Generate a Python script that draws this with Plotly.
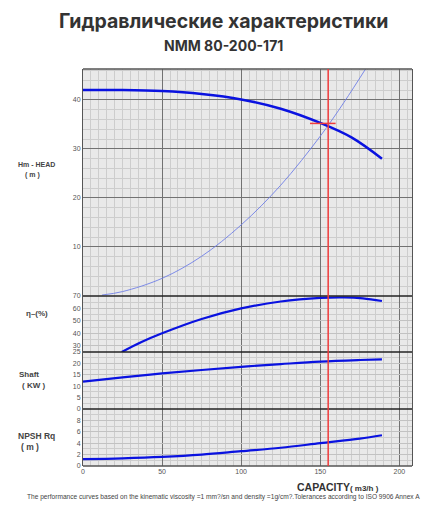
import plotly.graph_objects as go
from plotly.subplots import make_subplots

# pump curve readings (Q in m3/h)
q_head = [0, 25, 50, 75, 100, 125, 150, 170, 189]
head = [42.0, 42.0, 41.8, 41.2, 40.1, 38.2, 35.3, 32.3, 28.0]

q_sys = [12, 25, 50, 75, 100, 125, 150, 165, 180]
h_sys = [0.2, 0.9, 3.6, 8.1, 14.5, 22.6, 32.6, 39.5, 47.0]

q_eff = [24.5, 37, 50, 75, 100, 125, 150, 165, 177, 189]
eff = [25, 33, 40, 51.5, 60, 65.6, 68.5, 68.9, 68.1, 66]

q_pow = [0, 25, 50, 75, 100, 125, 150, 175, 189]
power = [12.0, 13.9, 15.6, 17.1, 18.5, 19.7, 20.8, 21.5, 21.8]

q_npsh = [0, 25, 50, 75, 100, 125, 150, 175, 189]
npsh = [1.2, 1.35, 1.6, 2.0, 2.6, 3.2, 4.0, 4.8, 5.4]

duty_q = 155
duty_h = 35.2

x_ticks = [0, 50, 100, 150, 200]

BLUE = "#0a12e0"
GRID_MAJOR = "#727272"
GRID_MINOR = "#cdcdcd"
TICKFONT = dict(family="Liberation Sans, Arial", size=7, color="#555")

# page body has an 8px margin, so the figure is 8px smaller and all spots shifted by 8
OFF = 8
FW, FH = 439 - OFF, 520 - OFF
L, T, H, W = 83 - OFF, 69 - OFF, 397, 329

fig = make_subplots(rows=4, cols=1, shared_xaxes=True, vertical_spacing=0,
                    row_heights=[227, 56, 57, 57])

fig.add_trace(go.Scatter(x=q_sys, y=h_sys, mode="lines", line=dict(color="#6f7fe6", width=0.9, shape="spline")), row=1, col=1)
fig.add_trace(go.Scatter(x=q_head, y=head, mode="lines", line=dict(color=BLUE, width=2.5, shape="spline")), row=1, col=1)
fig.add_trace(go.Scatter(x=q_eff, y=eff, mode="lines", line=dict(color=BLUE, width=2.2, shape="spline")), row=2, col=1)
fig.add_trace(go.Scatter(x=q_pow, y=power, mode="lines", line=dict(color=BLUE, width=2.2, shape="spline")), row=3, col=1)
fig.add_trace(go.Scatter(x=q_npsh, y=npsh, mode="lines", line=dict(color=BLUE, width=2.2, shape="spline")), row=4, col=1)

for r in range(1, 5):
    fig.update_xaxes(row=r, col=1, range=[0, 208], tickvals=x_ticks, showgrid=True,
                     gridcolor=GRID_MAJOR, gridwidth=1,
                     minor=dict(dtick=5, tick0=0, showgrid=True, gridcolor=GRID_MINOR, gridwidth=1),
                     showline=False, zeroline=False, ticks="", tickfont=TICKFONT,
                     showticklabels=(r == 4))

yax = dict(showline=True, mirror=True, linecolor="#555", linewidth=1, zeroline=False,
           ticks="", tickfont=TICKFONT, showgrid=True)
fig.update_yaxes(row=1, col=1, range=[0, 46.3], tickvals=[10, 20, 30, 40], gridcolor=GRID_MAJOR,
                 minor=dict(dtick=2, tick0=0, showgrid=True, gridcolor=GRID_MINOR), **yax)
fig.update_yaxes(row=2, col=1, range=[25, 70], tickvals=[25, 30, 40, 50, 60, 70], gridcolor="#c2c2c2",
                 minor=dict(dtick=5, tick0=25, showgrid=True, gridcolor=GRID_MINOR), **yax)
fig.update_yaxes(row=3, col=1, range=[0, 25], tickvals=[0, 5, 10, 15, 20], gridcolor="#c2c2c2",
                 minor=dict(dtick=2.5, tick0=0, showgrid=True, gridcolor=GRID_MINOR), **yax)
fig.update_yaxes(row=4, col=1, range=[0, 10], tickvals=[0, 2, 4, 6, 8], gridcolor="#c2c2c2",
                 minor=dict(dtick=1, tick0=0, showgrid=True, gridcolor=GRID_MINOR), **yax)

# panel borders
for yb, col in [(0, "#555"), (57 / 397, "#222"), (114 / 397, "#222"), (170 / 397, "#222"), (1, "#555")]:
    fig.add_shape(type="line", x0=0, x1=1, y0=yb, y1=yb, xref="paper", yref="paper",
                  line=dict(color=col, width=1.3))

# duty point
fig.add_shape(type="line", x0=duty_q, x1=duty_q, y0=0, y1=1, xref="x", yref="paper",
              line=dict(color="#f03c3c", width=1.5))
fig.add_shape(type="line", x0=duty_q - 11.5, x1=duty_q + 4.7, y0=duty_h, y1=duty_h, xref="x", yref="y",
              line=dict(color="#f03c3c", width=1.5))


def px(x, y):
    # reference pixel -> paper coords
    return (x - OFF - L) / W, (T + H - (y - OFF)) / H


side = [
    ("Hm - HEAD", 16, 164, 7),
    ("( m )", 23, 175, 7),
    ("η–(%)", 24, 313, 8),
    ("Shaft", 17, 374, 8),
    ("( KW )", 20, 385, 8),
    ("NPSH Rq", 16, 436, 8.5),
    ("( m )", 19, 447, 8.5),
]
for txt, x, y, s in side:
    ax, ay = px(x, y)
    fig.add_annotation(text="<b>" + txt + "</b>", x=ax, y=ay, xref="paper", yref="paper",
                       xanchor="left", yanchor="middle", showarrow=False,
                       font=dict(family="Liberation Sans, Arial", size=s, color="#444"))

ax, ay = px(338, 487)
fig.add_annotation(text="<b>CAPACITY</b><span style='font-size:8px'><b>( m3/h )</b></span>",
                   x=ax, y=ay, xref="paper", yref="paper", xanchor="center", yanchor="middle",
                   showarrow=False, font=dict(family="Liberation Sans, Arial", size=10.5, color="#333"))
ax, ay = px(223, 497)
fig.add_annotation(text="The performance curves based on the kinematic viscosity =1 mm?/sn and density =1g/cm?.Tolerances according to ISO 9906 Annex A",
                   x=ax, y=ay, xref="paper", yref="paper", xanchor="center", yanchor="middle",
                   showarrow=False, font=dict(family="Liberation Sans, Arial", size=6.6, color="#444"))

ax, ay = px(223, 21)
fig.add_annotation(text="<b>Гидравлические характеристики</b>", x=ax, y=ay, xref="paper", yref="paper",
                   xanchor="center", yanchor="middle", showarrow=False,
                   font=dict(family="Inter", size=19.5, color="#333"))
ax, ay = px(223, 46)
fig.add_annotation(text="<b>NMM 80-200-171</b>", x=ax, y=ay, xref="paper", yref="paper",
                   xanchor="center", yanchor="middle", showarrow=False,
                   font=dict(family="Inter", size=14, color="#333"))

fig.update_layout(width=FW, height=FH, showlegend=False,
                  margin=dict(l=L, r=FW - L - W, t=T, b=FH - T - H),
                  paper_bgcolor="white", plot_bgcolor="#e9e9e9")

fig.write_html("out.html")
